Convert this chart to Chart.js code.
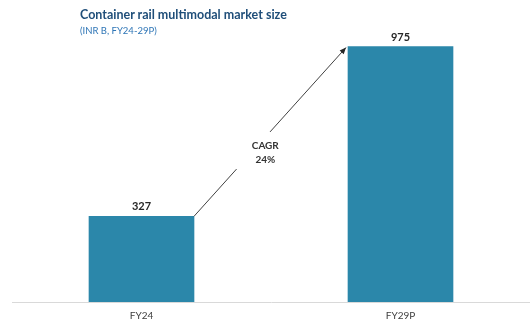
<!DOCTYPE html>
<html>
<head>
<meta charset="utf-8">
<script src="https://cdn.jsdelivr.net/npm/chart.js@4/dist/chart.umd.min.js"></script>
<style>
    body { margin: 0; background: #fff; }
    #wrap { position: relative; width: 530px; height: 320px; }
    #titulo { position: absolute; left: 80px; top: 7px; font: bold 12.5px Lato, sans-serif; color: #1f4e79; }
    #subtitulo { position: absolute; left: 80px; top: 25px; font: 9.5px Lato, sans-serif; color: #2e75b6; }
</style>
</head>
<body>
<div id="wrap">
    <canvas id="grafico" width="530" height="320"></canvas>
    <div id="titulo">Container rail multimodal market size</div>
    <div id="subtitulo">(INR B, FY24-29P)</div>
</div>
<script>
const categorias = ['FY24', 'FY29P'];
const valores = [327, 975];
const textoCagr = ['CAGR', '24%'];

// etiquetas sobre las barras y flecha de CAGR
const anotaciones = {
    id: 'anotaciones',
    afterDatasetsDraw(chart) {
        const ctx = chart.ctx;
        const barras = chart.getDatasetMeta(0).data;
        ctx.save();
        ctx.fillStyle = '#262626';
        ctx.font = 'bold 11px Lato, sans-serif';
        ctx.textAlign = 'center';
        ctx.textBaseline = 'bottom';
        barras.forEach((b, i) => {
            ctx.fillText(valores[i], b.x, b.y - 4);
        });

        const a = barras[0], z = barras[1];
        const x0 = a.x + a.width / 2, y0 = a.y;
        const x1 = z.x - z.width / 2 - 2, y1 = z.y + 1;
        const p = t => [x0 + (x1 - x0) * t, y0 + (y1 - y0) * t];
        ctx.strokeStyle = '#404040';
        ctx.lineWidth = 1;
        ctx.beginPath();
        ctx.moveTo(x0, y0);
        ctx.lineTo(...p(0.28));
        ctx.moveTo(...p(0.50));
        ctx.lineTo(x1, y1);
        ctx.stroke();
        // punta de flecha
        const ang = Math.atan2(y1 - y0, x1 - x0);
        ctx.fillStyle = '#262626';
        ctx.beginPath();
        ctx.moveTo(x1, y1);
        ctx.lineTo(x1 - 7 * Math.cos(ang - 0.4), y1 - 7 * Math.sin(ang - 0.4));
        ctx.lineTo(x1 - 7 * Math.cos(ang + 0.4), y1 - 7 * Math.sin(ang + 0.4));
        ctx.closePath();
        ctx.fill();

        const [cx, cy] = p(0.39);
        ctx.font = 'bold 10px Lato, sans-serif';
        ctx.fillStyle = '#333';
        ctx.textBaseline = 'middle';
        ctx.fillText(textoCagr[0], cx + 12, cy - 5);
        ctx.fillText(textoCagr[1], cx + 12, cy + 9);
        ctx.restore();
    }
};

new Chart(document.getElementById('grafico'), {
    type: 'bar',
    data: {
        labels: categorias,
        datasets: [{
            data: valores,
            backgroundColor: '#2b87aa',
            barThickness: 105
        }]
    },
    options: {
        responsive: false,
        animation: false,
        layout: { padding: { left: 12, right: 0, top: 40, bottom: -10 } },
        plugins: { legend: { display: false }, tooltip: { enabled: false } },
        scales: {
            x: {
                grid: { display: false, drawTicks: false },
                border: { color: '#d9d9d9', width: 1 },
                ticks: { color: '#404040', font: { family: 'Lato', size: 10 }, padding: 8 }
            },
            y: { display: false, min: 0, max: 1000 }
        }
    },
    plugins: [anotaciones]
});
</script>
</body>
</html>
